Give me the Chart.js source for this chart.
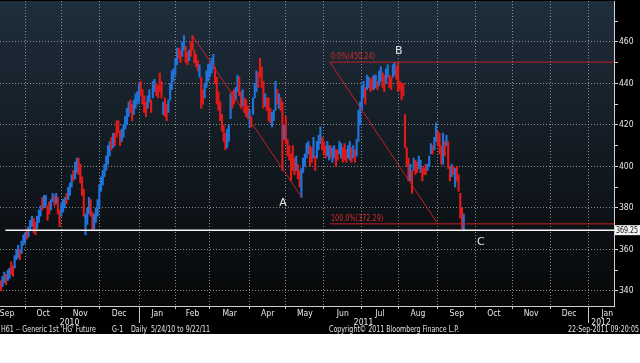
<!DOCTYPE html>
<html>
<head>
<meta charset="utf-8">
<script src="https://cdn.jsdelivr.net/npm/chart.js@4.4.0/dist/chart.umd.min.js"></script>
<style>
  body { margin: 0; background: #fff; }
  #wrap { position: relative; width: 640px; height: 334px; background: #000; }
  #foot span { position: absolute; top: 324px; font: 9px 'DejaVu Sans Condensed', sans-serif; color: #e4e4e4; white-space: pre; transform: scaleX(0.78); transform-origin: left top; }
  #foot span.r { transform-origin: right top; }
</style>
</head>
<body>
<div id="wrap">
  <canvas id="chart" width="640" height="334"></canvas>
  <div id="foot">
    <span style="left:1px">H61 -- Generic 1st 'HG' Future</span>
    <span style="left:112px">G-1</span>
    <span style="left:131px">Daily  5/24/10 to 9/22/11</span>
    <span style="left:329px">Copyright© 2011 Bloomberg Finance L.P.</span>
    <span class="r" style="right:1px">22-Sep-2011 09:20:05</span>
  </div>
</div>
<script>
// HG1 daily bars, one per weekday starting 13 Sep 2010 (index 0) to 22 Sep 2011
const firstDay = new Date(2010, 8, 13);

const lows = [
  340,342,344,343,345,346,348,347,351,355, 356,355,358,362,363,365,366,369,371,368,
  367,370,373,376,379,380,381,374,377,379, 383,381,382,377,371,376,378,380,382,384,
  386,390,393,394,397,396,392,386,376,367, 372,377,376,369,370,373,376,380,388,391,
  395,398,401,405,408,409,410,414,416,410, 412,414,418,420,424,426,422,425,428,430,
  431,434,430,426,424,428,431,426,433,436, 434,433,436,433,425,424,422,426,432,437,
  441,444,449,452,450,453,456,450,449,451, 453,456,450,448,446,443,428,430,433,438,
  441,443,445,447,440,430,427,422,417,412, 408,409,412,423,428,430,432,436,434,428,
  429,426,424,423,419,419,425,433,436,438, 443,438,428,429,427,422,421,419,422,427,
  430,428,427,398,413,411,405,403,393,398, 396,398,394,390,385,397,400,404,406,400,
  402,404,398,404,408,411,408,406,404,405, 403,404,402,404,400,403,406,404,402,403,
  402,404,403,402,404,402,405,412,420,427, 433,430,437,438,436,437,437,438,437,439,
  441,438,436,440,443,438,437,443,444,442, 436,437,432,434,409,400,393,393,387,398,
  396,397,399,397,393,396,396,398,400,406, 406,408,412,410,406,401,401,405,410,399,
  393,395,396,390,393,388,375,370,369
];
const highs = [
  345,347,349,348,350,351,354,352,357,360, 362,360,364,367,368,370,371,374,376,375,
  373,376,379,381,385,386,386,381,383,384, 387,386,387,385,379,382,384,385,387,390,
  392,396,398,402,404,404,401,395,389,377, 380,385,384,378,377,380,384,391,395,398,
  401,405,410,412,414,416,416,422,422,417, 418,420,424,428,431,432,430,432,435,436,
  440,441,437,434,431,434,437,432,441,442, 440,439,445,441,431,433,430,432,440,446,
  447,452,457,457,456,460,463,458,455,456, 460,463,456,454,451,449,443,437,440,446,
  449,450,452,454,448,443,436,431,425,420, 416,418,420,435,436,437,438,444,443,436,
  437,433,432,429,427,424,433,440,446,445, 452,448,441,435,433,433,428,426,427,441,
  437,435,433,431,420,424,413,410,406,410, 404,405,401,398,399,404,406,411,412,410,
  409,414,405,412,415,419,414,412,410,412, 410,410,409,410,408,408,412,411,409,411,
  408,410,412,409,410,408,413,427,431,439, 441,438,444,443,442,443,444,444,441,446,
  448,445,444,447,449,444,443,449,450,448, 450,441,440,440,425,409,404,401,398,404,
  403,402,405,403,400,399,401,401,405,411, 410,414,421,417,416,410,416,412,415,412,
  400,401,400,399,400,396,387,380,377
];
// 1 = up day (blue), 0 = down day (red)
const ups = [
  0,1,1,0,1,1,0,0,1,1, 1,0,1,1,1,0,1,1,1,0, 0,1,1,1,0,1,1,0,0,1, 1,0,1,0,0,1,1,1,0,1,
  1,1,0,1,1,0,0,0,0,1, 1,1,0,0,1,1,1,1,1,1, 1,1,1,1,0,1,0,0,0,0, 1,1,1,1,1,0,0,1,1,1,
  1,0,0,0,0,1,1,0,1,1, 0,0,0,0,1,0,0,1,1,1, 1,1,1,0,0,1,1,0,0,1, 0,0,0,0,0,1,0,0,1,1,
  1,1,1,1,0,0,0,0,0,0, 0,1,1,1,0,0,1,1,0,0, 1,0,0,0,1,0,1,1,1,0, 0,0,0,1,0,0,0,1,1,1,
  0,1,0,0,1,0,0,0,0,0, 0,1,0,0,1,1,1,1,1,0, 0,1,0,1,1,1,0,0,0,1, 1,0,1,1,0,0,1,1,0,0,
  0,1,1,0,1,0,1,1,1,1, 1,0,1,1,0,0,1,1,0,1, 1,0,0,1,1,0,0,1,1,0, 0,0,0,0,0,0,0,1,0,1,
  0,0,1,1,0,0,0,1,1,1, 0,1,1,0,0,0,1,0,1,0, 0,1,0,1,0,0,0,0,1
];

const yTicks = [350, 340, 360, 370, 380, 390, 400, 410, 420, 430, 440, 450, 460, 470];
const lastPrice = 369.25;
const trendA = [{ x: 111, y: 463 }, { x: 174.3, y: 385 }];
const fibTop = 450.24;
const fibBottom = 372.29;
const fibFrom = 190.5, fibTo = 253;
const letters = ['A', 'B', 'C'];
const letterX = [163.3, 230.4, 277.9];
const letterY = [382.2, 455.7, 363.4];
const monthNames = ['Jan','Feb','Mar','Apr','May','Jun','Jul','Aug','Sep','Oct','Nov','Dec'];

const xMin = -0.5, xMax = 355;

// weekday calendar
const days = [];
for (let d = new Date(firstDay); days.length < 380; d.setDate(d.getDate() + 1)) {
  if (d.getDay() !== 0 && d.getDay() !== 6) days.push(new Date(d));
}
const starts = [{ i: -8, m: 8, y: 2010 }];
for (let i = 1; i < days.length; i++) {
  if (days[i].getMonth() !== days[i - 1].getMonth()) starts.push({ i, m: days[i].getMonth(), y: days[i].getFullYear() });
}

const xTickVals = [], xTickLabels = [], xTickKind = [];
starts.forEach(s => {
  if (s.i > xMin && s.i < xMax) { xTickVals.push(s.i); xTickLabels.push([]); xTickKind.push('start'); }
});
for (let k = 0; k < starts.length - 1; k++) {
  const mid = Math.max((starts[k].i + starts[k + 1].i) / 2, xMin + 4.1);
  if (mid < xMax) { xTickVals.push(mid); xTickLabels.push([monthNames[starts[k].m]]); xTickKind.push('mid'); }
}
const yearStarts = starts.filter(s => s.m === 0 && s.i < xMax).map(s => s.i);
const yearEdges = [xMin, ...yearStarts, xMax];
for (let k = 0; k < yearEdges.length - 1; k++) {
  xTickVals.push((yearEdges[k] + yearEdges[k + 1]) / 2);
  xTickLabels.push(['', String(2010 + k)]);
  xTickKind.push('year');
}
// keep an unlabelled tick last so the layout adds no padding
xTickVals.push(xTickVals.shift()); xTickLabels.push(xTickLabels.shift()); xTickKind.push(xTickKind.shift());

const bars = lows.map((lo, i) => ({ x: i, y: [lo, highs[i]] }));
const barColors = ups.map(u => u ? '#1f74dc' : '#e31a1a');

const font = { family: "'DejaVu Sans Condensed', sans-serif", size: 8.5, lineHeight: 1.05 };
const gridCol = 'rgba(160,160,160,0.85)';

function narrowText(ctx, txt, x, y, sx) {
  ctx.save();
  ctx.translate(x, y);
  ctx.scale(sx, 1);
  ctx.fillText(txt, 0, 0);
  ctx.restore();
}

const decor = {
  id: 'decor',
  beforeDraw(chart) {
    const { ctx, chartArea: a } = chart;
    const g = ctx.createLinearGradient(0, a.top, 0, a.bottom);
    g.addColorStop(0, '#1f2e3c');
    g.addColorStop(1, '#060708');
    ctx.save();
    ctx.fillStyle = g;
    ctx.fillRect(a.left, a.top, a.width, a.height);
    ctx.restore();
  },
  afterDraw(chart) {
    const { ctx, scales: { x, y }, chartArea: a } = chart;
    ctx.save();
    ctx.strokeStyle = '#c8c8c8';
    ctx.lineWidth = 1;
    yearStarts.forEach(i => {
      const px = Math.round(x.getPixelForValue(i)) + 0.5;
      ctx.beginPath(); ctx.moveTo(px, a.bottom); ctx.lineTo(px, a.bottom + 17); ctx.stroke();
    });
    ctx.font = "11px 'DejaVu Sans'";
    ctx.fillStyle = '#e6e6e6';
    ctx.textAlign = 'center';
    ctx.textBaseline = 'middle';
    letters.forEach((t, k) => ctx.fillText(t, x.getPixelForValue(letterX[k]), y.getPixelForValue(letterY[k])));
    ctx.font = "9px 'DejaVu Sans Condensed', sans-serif";
    ctx.fillStyle = '#d42a2a';
    ctx.textAlign = 'left';
    ctx.textBaseline = 'bottom';
    const fx = x.getPixelForValue(fibFrom) + 1;
    narrowText(ctx, '0.0%(' + fibTop.toFixed(2) + ')', fx, y.getPixelForValue(fibTop) - 1, 0.8);
    narrowText(ctx, '100.0%(' + fibBottom.toFixed(2) + ')', fx, y.getPixelForValue(fibBottom) - 1, 0.8);
    const py = y.getPixelForValue(lastPrice);
    ctx.fillStyle = '#f2f2f2';
    ctx.fillRect(a.right + 1, py - 5, 26, 10);
    ctx.fillStyle = '#111';
    ctx.textBaseline = 'middle';
    narrowText(ctx, lastPrice.toFixed(2), a.right + 2, py + 0.5, 0.78);
    ctx.restore();
  }
};

new Chart(document.getElementById('chart'), {
  type: 'bar',
  data: {
    datasets: [
      { type: 'line', data: [{ x: 2.6, y: lastPrice }, { x: xMax, y: lastPrice }], borderColor: '#f4f4f4', borderWidth: 1.5, pointRadius: 0, order: 1 },
      { type: 'line', data: trendA, borderColor: '#c81e22', borderWidth: 1, pointRadius: 0, order: 1 },
      { type: 'line', data: [{ x: fibFrom, y: fibTop }, { x: fibTo, y: fibBottom }], borderColor: '#c81e22', borderWidth: 1, pointRadius: 0, order: 1 },
      { type: 'line', data: [{ x: fibFrom, y: fibTop }, { x: xMax, y: fibTop }], borderColor: '#c81e22', borderWidth: 1, pointRadius: 0, order: 1 },
      { type: 'line', data: [{ x: fibFrom, y: fibBottom }, { x: xMax, y: fibBottom }], borderColor: '#c81e22', borderWidth: 1, pointRadius: 0, order: 1 },
      { data: bars, backgroundColor: barColors, barThickness: 1.5, order: 2 }
    ]
  },
  options: {
    responsive: false,
    animation: false,
    events: [],
    layout: { padding: 0 },
    plugins: { legend: { display: false }, tooltip: { enabled: false } },
    scales: {
      x: {
        type: 'linear', min: xMin, max: xMax, offset: false,
        afterBuildTicks: s => { s.ticks = xTickVals.map(v => ({ value: v })); },
        afterFit: s => { s.height = 28; },
        ticks: {
          autoSkip: false, maxRotation: 0, minRotation: 0, padding: 0,
          color: '#e8e8e8', font,
          callback: (v, i) => xTickLabels[i]
        },
        grid: {
          offset: false, tickLength: 3,
          color: c => xTickKind[c.index] === 'start' ? gridCol : 'transparent',
          tickColor: c => xTickKind[c.index] === 'start' ? '#c8c8c8' : 'transparent'
        },
        border: { color: '#d0d0d0', dash: [1, 2] }
      },
      y: {
        position: 'right', min: 332.7, max: 479.7,
        afterBuildTicks: s => { s.ticks = yTicks.map(v => ({ value: v })); },
        afterFit: s => { s.width = 26; },
        ticks: {
          padding: 1, color: '#e8e8e8', font,
          callback: v => v % 20 === 0 ? String(v) : []
        },
        grid: {
          tickLength: 4,
          color: c => c.tick.value % 20 === 0 ? gridCol : 'transparent',
          tickColor: '#d8d8d8'
        },
        border: { color: '#d0d0d0', dash: [1, 2] }
      }
    }
  },
  plugins: [decor]
});
</script>
</body>
</html>
